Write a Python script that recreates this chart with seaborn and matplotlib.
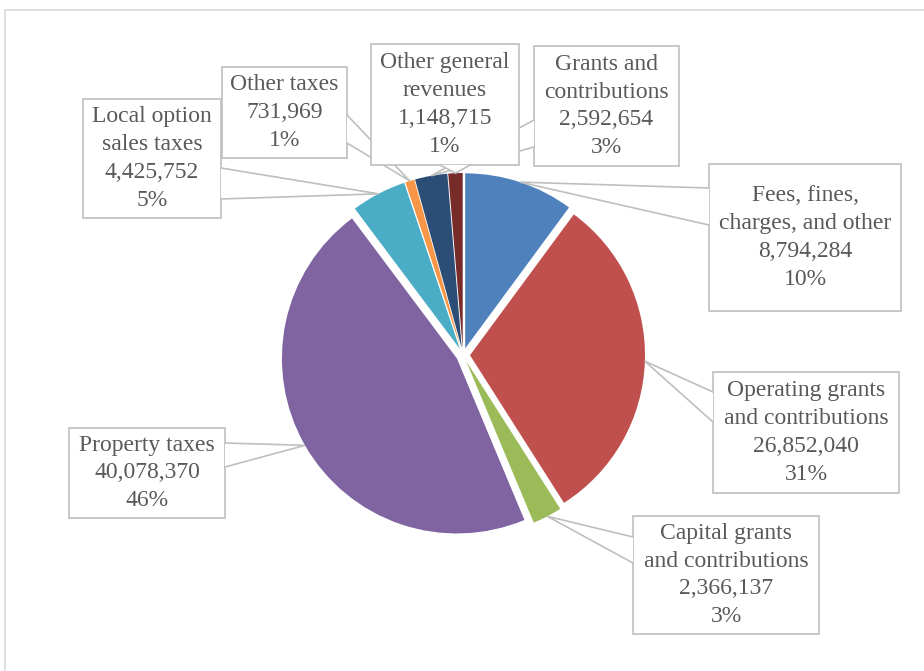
import numpy as np
import matplotlib
matplotlib.use("Agg")
import matplotlib.pyplot as plt
from matplotlib.patches import Rectangle, Polygon
import seaborn as sns

# data
categories = ["Fees, fines,\ncharges, and other",
              "Operating grants\nand contributions",
              "Capital grants\nand contributions",
              "Property taxes",
              "Local option\nsales taxes",
              "Other taxes",
              "Grants and\ncontributions",
              "Other general\nrevenues"]
values = [8794284, 26852040, 2366137, 40078370, 4425752, 731969, 2592654, 1148715]
colors = ["#4F81BD", "#C0504D", "#9BBB59", "#8064A2",
          "#4BACC6", "#F79646", "#2C4D75", "#772C2A"]

# label boxes in pixel coords: (left, top, right, bottom), pointer side and base span
boxes = [
    ((709, 164, 901, 311), "left", (188, 225)),
    ((713, 372, 899, 493), "left", (392, 422)),
    ((633, 516, 819, 634), "left", (537, 563)),
    ((69, 428, 225, 518), "right", (443, 467)),
    ((83, 99, 221, 218), "right", (168, 199)),
    ((222, 67, 347, 158), "right", (115, 143)),
    ((534, 46, 679, 166), "left", (120, 147)),
    ((371, 44, 519, 165), "bottom", (440, 470)),
]

H = 671
def Y(py):
    return H - py

sns.set_style("white")
plt.rcParams['font.family'] = ['Liberation Serif', 'DejaVu Serif']

fig = plt.figure(figsize=(9.24, 6.71), dpi=100)
ax = fig.add_axes([0, 0, 1, 1])

total = sum(values)
# explode is in data units here (pixels)
wedges, _ = ax.pie(values, colors=sns.color_palette(colors), startangle=90,
                   counterclock=False, radius=175, center=(463, Y(355)),
                   explode=[7] * len(values), frame=True,
                   wedgeprops=dict(linewidth=0))

ax.set_xlim(0, 924)
ax.set_ylim(0, 671)
ax.set_aspect('equal')
ax.axis('off')

# chart frame
ax.add_patch(Rectangle((5, Y(1000)), 1000, 1000 - 10, fill=False,
                       edgecolor="#D9D9D9", linewidth=1.2, zorder=0))

edge = "#BFBFBF"
txt = "#595959"
for i, (w, cat, val) in enumerate(zip(wedges, categories, values)):
    (l, t, r, b), side, (s0, s1) = boxes[i]
    mid = np.deg2rad((w.theta1 + w.theta2) / 2)
    tip = (w.center[0] + w.r * np.cos(mid), w.center[1] + w.r * np.sin(mid))
    if side == "left":
        p0, p1 = (l, Y(s0)), (l, Y(s1))
    elif side == "right":
        p0, p1 = (r, Y(s0)), (r, Y(s1))
    else:
        p0, p1 = (s0, Y(b)), (s1, Y(b))
    z = 3 + i * 0.1
    ax.add_patch(Rectangle((l, Y(b)), r - l, b - t, facecolor="white",
                           edgecolor=edge, linewidth=1.2, zorder=z))
    ax.add_patch(Polygon([p0, p1, tip], closed=True, facecolor="white",
                         edgecolor="none", zorder=z + 0.01))
    ax.plot([p0[0], tip[0], p1[0]], [p0[1], tip[1], p1[1]], color=edge,
            linewidth=1.2, zorder=z + 0.02, solid_joinstyle="miter")
    pct = f"{val / total:.0%}"
    label = f"{cat}\n{val:,}\n{pct}"
    ax.text((l + r) / 2, Y((t + b) / 2), label, ha="center", va="center",
            fontsize=17, color=txt, linespacing=1.42, zorder=z + 0.05)

fig.savefig("out.png", dpi=100)
